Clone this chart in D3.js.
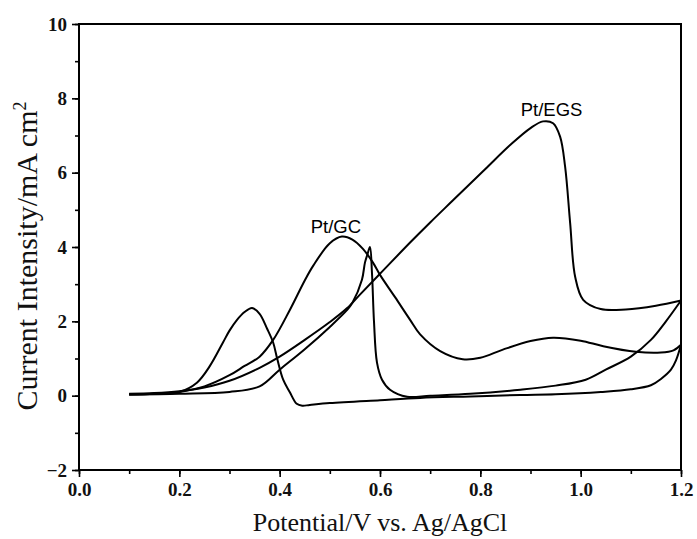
<!DOCTYPE html>
<html>
<head>
<meta charset="utf-8">
<script src="https://cdn.jsdelivr.net/npm/d3@7"></script>
<style>
  html, body { margin: 0; padding: 0; background: #fff; }
  svg { display: block; }
</style>
</head>
<body>
<svg id="chart" width="697" height="539"></svg>
<script>
// ---------- DATA ----------
// Pt/EGS forward scan
const egsFwdV = [0.10,0.15,0.20,0.25,0.30,0.36,0.40,0.45,0.50,0.534,0.56,0.60,0.66,0.70,0.745,0.81,0.86,0.90,0.925,0.945,0.959,0.969,0.979,0.989,1.005,1.04,1.09,1.15,1.20];
const egsFwdI = [0.05,0.07,0.12,0.22,0.40,0.75,1.05,1.50,1.98,2.35,2.72,3.28,4.12,4.66,5.25,6.10,6.75,7.20,7.38,7.33,6.97,6.16,4.65,3.20,2.58,2.33,2.32,2.42,2.56];
// Pt/EGS reverse scan
const egsRevV = [1.20,1.17,1.14,1.10,1.05,1.01,0.95,0.88,0.78,0.70,0.654,0.62,0.604,0.594,0.588,0.584,0.580,0.575,0.570,0.564,0.545,0.534,0.50,0.45,0.40,0.36,0.30,0.20,0.10];
const egsRevI = [2.56,2.00,1.50,1.05,0.70,0.43,0.27,0.16,0.05,0.00,-0.03,0.16,0.43,0.89,2.00,3.30,4.00,3.80,3.58,3.12,2.50,2.30,1.85,1.25,0.70,0.25,0.10,0.05,0.03];
// Pt/GC forward scan
const gcFwdV = [0.10,0.15,0.20,0.25,0.30,0.33,0.36,0.387,0.42,0.45,0.467,0.50,0.524,0.545,0.566,0.586,0.60,0.63,0.66,0.68,0.72,0.765,0.80,0.845,0.90,0.945,1.00,1.045,1.11,1.16,1.185,1.20];
const gcFwdI = [0.03,0.05,0.10,0.25,0.55,0.80,1.05,1.50,2.30,3.10,3.50,4.10,4.28,4.20,3.95,3.58,3.25,2.65,2.04,1.65,1.20,0.98,1.02,1.24,1.47,1.56,1.48,1.33,1.18,1.16,1.22,1.37];
// Pt/GC reverse scan
const gcRevV = [1.20,1.19,1.18,1.16,1.14,1.10,1.04,0.95,0.88,0.78,0.68,0.60,0.50,0.46,0.445,0.434,0.42,0.407,0.395,0.387,0.375,0.36,0.345,0.33,0.315,0.30,0.287,0.26,0.235,0.20,0.15,0.10];
const gcRevI = [1.37,0.95,0.70,0.45,0.28,0.17,0.10,0.04,0.02,-0.02,-0.06,-0.12,-0.20,-0.25,-0.27,-0.22,0.10,0.43,1.00,1.43,1.80,2.20,2.36,2.25,2.04,1.75,1.43,0.78,0.35,0.10,0.05,0.03];

const xTickValues = [0.0,0.2,0.4,0.6,0.8,1.0,1.2];
const yTickValues = [-2,0,2,4,6,8,10];
const xTitle = "Potential/V vs. Ag/AgCl";
const yTitle = "Current Intensity/mA cm";
const labels = [{text:"Pt/GC", v:0.512, i:4.38}, {text:"Pt/EGS", v:0.942, i:7.52}];

// ---------- LAYOUT ----------
const svg = d3.select("#chart");
const m = {left:79, top:24, right:16, bottom:69};
const W = 697 - m.left - m.right, H = 539 - m.top - m.bottom;
const x = d3.scaleLinear().domain([0,1.2]).range([0,W]);
const y = d3.scaleLinear().domain([-2,10]).range([H,0]);
const g = svg.append("g").attr("transform",`translate(${m.left},${m.top})`);

const serif = "'Liberation Serif','Times New Roman',serif";

// minor ticks
const xMinor = d3.axisBottom(x).tickValues(d3.range(0,1.2001,0.1)).tickSize(4).tickFormat("");
const yMinor = d3.axisLeft(y).tickValues(d3.range(-2,10.001,1)).tickSize(4).tickFormat("");
g.append("g").attr("transform",`translate(0,${H})`).call(xMinor);
g.append("g").call(yMinor);

const xAxis = d3.axisBottom(x).tickValues(xTickValues).tickSize(7).tickPadding(6).tickFormat(d3.format(".1f"));
const yAxis = d3.axisLeft(y).tickValues(yTickValues).tickSize(7).tickPadding(5).tickFormat(d3.format("d"));
g.append("g").attr("transform",`translate(0,${H})`).call(xAxis);
g.append("g").call(yAxis);
g.selectAll(".domain").remove();
g.selectAll(".tick line").attr("stroke","#000").attr("stroke-width",1.6);
g.selectAll(".tick text").attr("fill","#111").style("font-family",serif)
  .style("font-size","19px").style("font-weight","bold");

// frame
g.append("rect").attr("x",0).attr("y",0).attr("width",W).attr("height",H)
  .attr("fill","none").attr("stroke","#000").attr("stroke-width",2);

// curves
const line = d3.line().x(d=>x(d[0])).y(d=>y(d[1])).curve(d3.curveCatmullRom.alpha(0.5));
const scans = [[egsFwdV,egsFwdI],[egsRevV,egsRevI],[gcFwdV,gcFwdI],[gcRevV,gcRevI]];
scans.forEach(([vs,is])=>{
  g.append("path").datum(vs.map((v,k)=>[v,is[k]]))
    .attr("d",line).attr("fill","none").attr("stroke","#000").attr("stroke-width",2)
    .attr("stroke-linejoin","round");
});

// annotations
labels.forEach(l=>{
  g.append("text").attr("x",x(l.v)).attr("y",y(l.i)).attr("text-anchor","middle")
    .style("font-family","'Liberation Sans',Arial,sans-serif").style("font-size","18.5px")
    .attr("fill","#000").text(l.text);
});

// titles
svg.append("text").attr("x",m.left+W/2).attr("y",531).attr("text-anchor","middle")
  .style("font-family",serif).style("font-size","26px").attr("fill","#111").text(xTitle);
const yt = svg.append("text").attr("transform",`translate(37,${m.top+H/2+9}) rotate(-90)`)
  .attr("text-anchor","middle").style("font-family",serif).style("font-size","30px").attr("fill","#111");
yt.append("tspan").text(yTitle);
yt.append("tspan").attr("dy",-11).style("font-size","18px").text("2");
</script>
</body>
</html>
